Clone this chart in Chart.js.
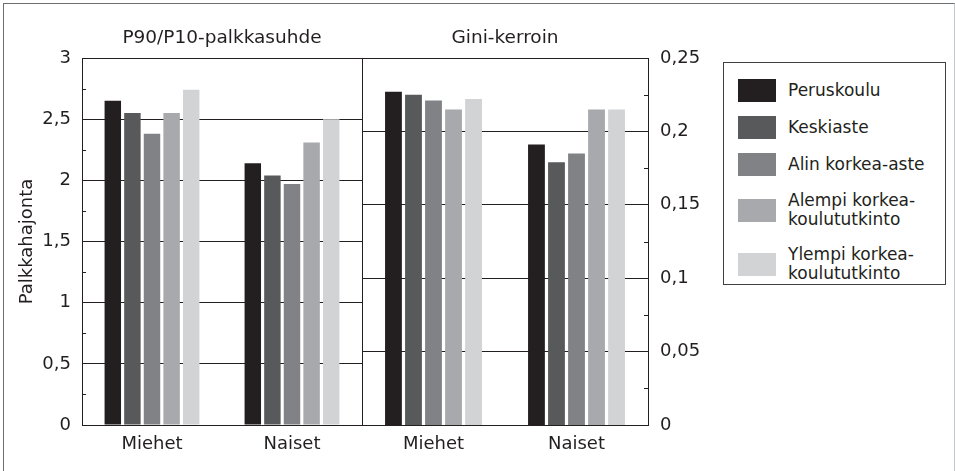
<!DOCTYPE html>
<html>
<head>
<meta charset="utf-8">
<script src="https://cdn.jsdelivr.net/npm/chart.js@4.4.1/dist/chart.umd.min.js"></script>
<style>
html, body { margin: 0; padding: 0; background: #fff; }
#wrap { position: relative; width: 955px; height: 471px; overflow: hidden;
        font-family: "DejaVu Sans", Arial, sans-serif; color: #231f20; }
#frame { position: absolute; left: 3px; top: 3px; width: 952px; height: 480px; box-sizing: border-box;
         border-left: 1px solid #6d6e71; border-top: 1px solid #6d6e71; border-right: 1px solid #c7c8ca; }
#c1 { position: absolute; left: 0; top: 0; }
#c2 { position: absolute; left: 361px; top: 0; }
#legend { position: absolute; left: 723px; top: 62px; width: 223px; height: 223px; box-sizing: border-box;
          border: 1px solid #414042; padding-top: 9px; }
.row { display: flex; align-items: center; padding: 7px 0; font-size: 17px; line-height: 19px; }
.row.two { padding: 8px 0; }
.sw { width: 38px; height: 23px; margin-left: 14px; margin-right: 12px; flex: none; }
</style>
</head>
<body>
<div id="wrap">
  <div id="frame"></div>
  <canvas id="c1" width="362" height="471"></canvas>
  <canvas id="c2" width="360" height="471"></canvas>
  <div id="legend"></div>
</div>
<script>
// ryhmät ja koulutusasteet
var groups = ["Miehet", "Naiset"];
var levels = ["Peruskoulu", "Keskiaste", "Alin korkea-aste",
              ["Alempi korkea-", "koulututkinto"], ["Ylempi korkea-", "koulututkinto"]];
var colors = ["#231f20", "#58595b", "#808285", "#a7a9ac", "#d1d3d4"];

// P90/P10-palkkasuhde
var p9010Miehet = [2.65, 2.55, 2.38, 2.55, 2.74];
var p9010Naiset = [2.14, 2.04, 1.97, 2.31, 2.50];

// Gini-kerroin
var giniMiehet = [0.227, 0.225, 0.221, 0.215, 0.222];
var giniNaiset = [0.191, 0.179, 0.185, 0.215, 0.215];

var ink = "#231f20";
Chart.defaults.font.family = "'DejaVu Sans', Arial, sans-serif";
Chart.defaults.font.size = 18;
Chart.defaults.color = ink;

function fmt(v) {
    return String(Math.round(v * 1000) / 1000).replace(".", ",");
}

function makeDatasets(m, n) {
    var ds = [];
    for (var i = 0; i < levels.length; i++) {
        ds.push({
            label: levels[i],
            data: [m[i], n[i]],
            backgroundColor: colors[i],
            borderWidth: 0,
            categoryPercentage: 0.7,
            barPercentage: 0.84
        });
    }
    return ds;
}

// pienet väliviivat akselin sisäpuolelle
var minorTicks = {
    id: "minorTicks",
    afterDatasetsDraw: function (chart, args, opts) {
        var s = chart.scales.y;
        var ctx = chart.ctx;
        var ticks = s.ticks;
        var x = opts.side === "left" ? chart.chartArea.left : chart.chartArea.right;
        var dx = opts.side === "left" ? 4 : -4;
        ctx.save();
        ctx.strokeStyle = ink;
        ctx.lineWidth = 1;
        for (var i = 0; i < ticks.length - 1; i++) {
            var y = Math.round(s.getPixelForValue((ticks[i].value + ticks[i + 1].value) / 2)) + 0.5;
            ctx.beginPath();
            ctx.moveTo(x, y);
            ctx.lineTo(x + dx, y);
            ctx.stroke();
        }
        ctx.restore();
    }
};

var xBottom = {
    position: "bottom",
    grid: { display: false, drawTicks: false },
    border: { color: ink },
    ticks: { color: ink, padding: 9, font: { size: 18 } },
    afterFit: function (s) { s.height = 46; }
};

function topAxis(text) {
    return {
        type: "category",
        position: "top",
        grid: { display: false, drawTicks: false },
        border: { color: ink },
        ticks: { display: false },
        title: { display: true, text: text, color: ink, font: { size: 18.5 }, padding: { top: 27, bottom: 0 } },
        afterFit: function (s) { s.height = 58; }
    };
}

new Chart(document.getElementById("c1"), {
    type: "bar",
    data: { labels: groups, datasets: makeDatasets(p9010Miehet, p9010Naiset) },
    plugins: [minorTicks],
    options: {
        responsive: false,
        animation: false,
        layout: { padding: 0 },
        plugins: { legend: { display: false }, tooltip: { enabled: false }, minorTicks: { side: "left" } },
        scales: {
            x: xBottom,
            xt: topAxis("P90/P10-palkkasuhde"),
            y: {
                position: "left",
                min: 0, max: 3,
                ticks: { stepSize: 0.5, padding: 11, color: ink, callback: fmt },
                grid: { color: ink, drawTicks: false },
                border: { color: ink },
                title: { display: true, text: "Palkkahajonta", color: ink, font: { size: 18 }, padding: { top: 17, bottom: 0 } },
                afterFit: function (s) { s.width = 82; }
            }
        }
    }
});

new Chart(document.getElementById("c2"), {
    type: "bar",
    data: { labels: groups, datasets: makeDatasets(giniMiehet, giniNaiset) },
    plugins: [minorTicks],
    options: {
        responsive: false,
        animation: false,
        layout: { padding: 0 },
        plugins: { legend: { display: false }, tooltip: { enabled: false }, minorTicks: { side: "right" } },
        scales: {
            x: xBottom,
            xt: topAxis("Gini-kerroin"),
            yl: {
                type: "linear",
                position: "left",
                ticks: { display: false },
                grid: { display: false, drawTicks: false },
                border: { color: ink },
                afterFit: function (s) { s.width = 1; }
            },
            y: {
                position: "right",
                min: 0, max: 0.25,
                ticks: { stepSize: 0.05, padding: 12, color: ink, callback: fmt },
                grid: { color: ink, drawTicks: false },
                border: { color: ink },
                afterFit: function (s) { s.width = 73; }
            }
        }
    }
});

// selite
var legend = document.getElementById("legend");
levels.forEach(function (name, i) {
    var row = document.createElement("div");
    row.className = Array.isArray(name) ? "row two" : "row";
    var sw = document.createElement("div");
    sw.className = "sw";
    sw.style.background = colors[i];
    var txt = document.createElement("div");
    txt.innerHTML = Array.isArray(name) ? name.join("<br>") : name;
    row.appendChild(sw);
    row.appendChild(txt);
    legend.appendChild(row);
});
</script>
</body>
</html>
